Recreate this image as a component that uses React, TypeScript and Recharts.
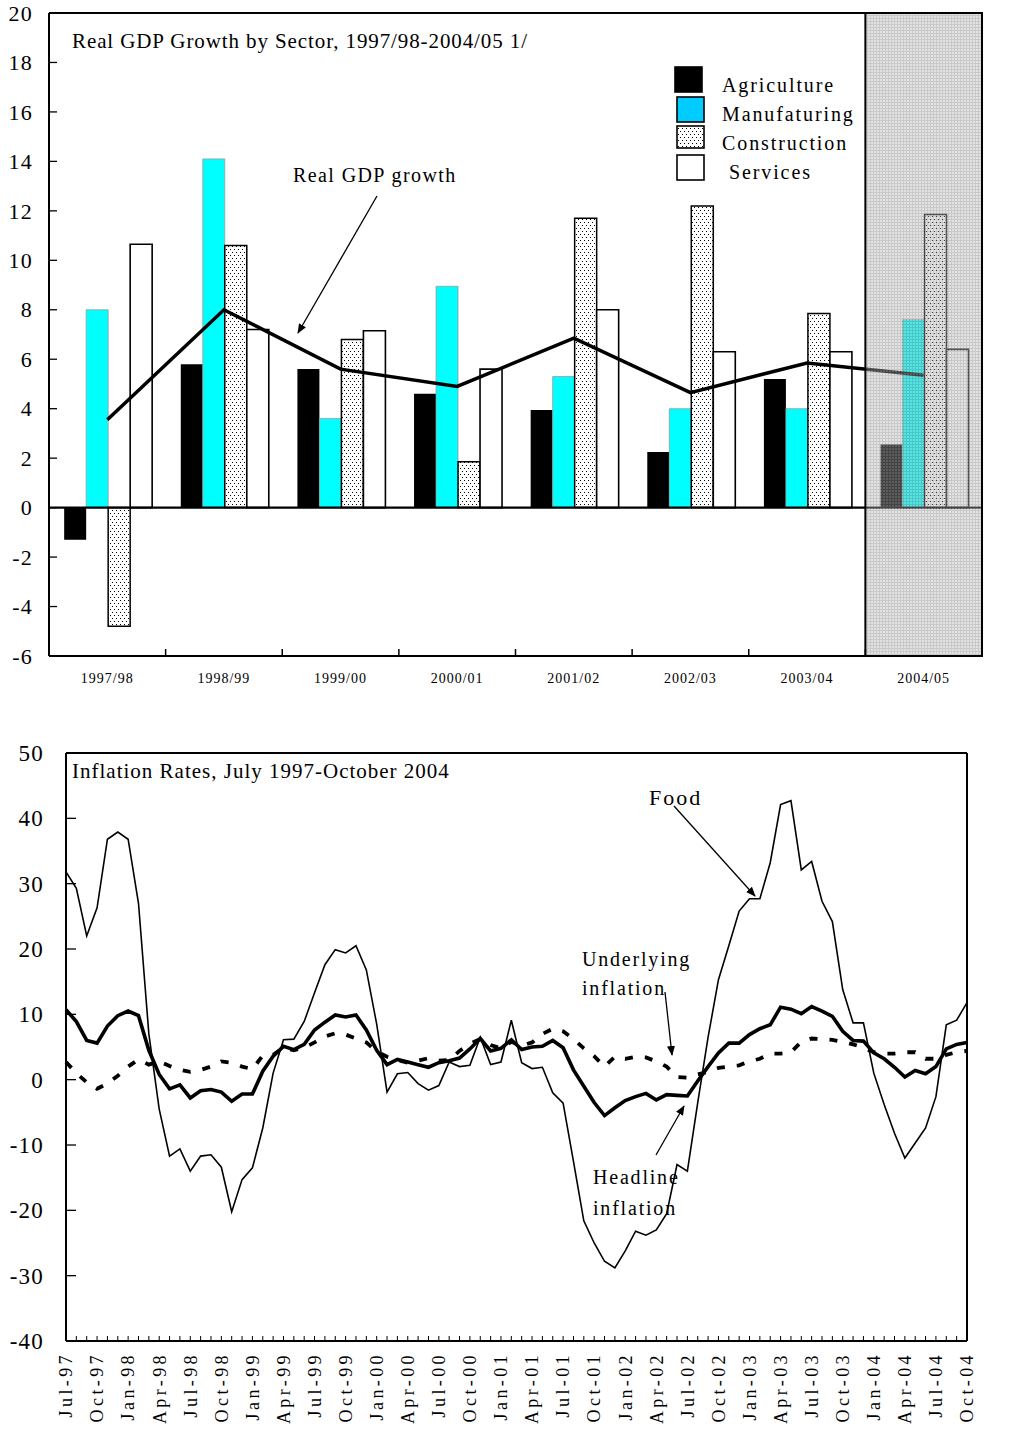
import {
  Bar,
  ComposedChart,
  Legend,
  Line,
  LineChart,
  ReferenceArea,
  ReferenceLine,
  XAxis,
  YAxis,
} from "recharts";

const SERIF = "'Liberation Serif', 'Times New Roman', serif";

// ---- Real GDP growth by sector (percent) ----
const fiscalYears = ["1997/98", "1998/99", "1999/00", "2000/01", "2001/02", "2002/03", "2003/04", "2004/05"];
const agriculture = [-1.3, 5.8, 5.6, 4.6, 3.95, 2.25, 5.2, 2.55];
const manufacturing = [8.0, 14.1, 3.6, 8.95, 5.3, 4.0, 4.0, 7.6];
const construction = [-4.8, 10.6, 6.8, 1.85, 11.7, 12.2, 7.85, 11.85];
const services = [10.65, 7.2, 7.15, 5.6, 8.0, 6.3, 6.3, 6.4];
const realGdp = [3.55, 8.0, 5.6, 4.9, 6.85, 4.65, 5.85, 5.35];
const gdpTicks = [-6, -4, -2, 0, 2, 4, 6, 8, 10, 12, 14, 16, 18, 20];

// ---- Inflation rates, monthly (percent, year on year) ----
const months = [
  "Jul-97", "Aug-97", "Sep-97", "Oct-97", "Nov-97", "Dec-97",
  "Jan-98", "Feb-98", "Mar-98", "Apr-98", "May-98", "Jun-98", "Jul-98", "Aug-98", "Sep-98", "Oct-98", "Nov-98", "Dec-98",
  "Jan-99", "Feb-99", "Mar-99", "Apr-99", "May-99", "Jun-99", "Jul-99", "Aug-99", "Sep-99", "Oct-99", "Nov-99", "Dec-99",
  "Jan-00", "Feb-00", "Mar-00", "Apr-00", "May-00", "Jun-00", "Jul-00", "Aug-00", "Sep-00", "Oct-00", "Nov-00", "Dec-00",
  "Jan-01", "Feb-01", "Mar-01", "Apr-01", "May-01", "Jun-01", "Jul-01", "Aug-01", "Sep-01", "Oct-01", "Nov-01", "Dec-01",
  "Jan-02", "Feb-02", "Mar-02", "Apr-02", "May-02", "Jun-02", "Jul-02", "Aug-02", "Sep-02", "Oct-02", "Nov-02", "Dec-02",
  "Jan-03", "Feb-03", "Mar-03", "Apr-03", "May-03", "Jun-03", "Jul-03", "Aug-03", "Sep-03", "Oct-03", "Nov-03", "Dec-03",
  "Jan-04", "Feb-04", "Mar-04", "Apr-04", "May-04", "Jun-04", "Jul-04", "Aug-04", "Sep-04", "Oct-04",
];
const food = [
  31.8, 29.3, 22.0, 26.3, 36.8, 37.9, 36.8, 27.0, 7.0, -4.5,
  -11.7, -10.6, -14.0, -11.7, -11.5, -13.4, -20.2, -15.3, -13.5, -7.4,
  1.0, 6.1, 6.2, 8.9, 13.3, 17.6, 19.9, 19.4, 20.5, 16.8,
  8.5, -1.9, 0.9, 1.1, -0.6, -1.6, -0.9, 2.7, 2.0, 2.2,
  6.5, 2.3, 2.7, 9.1, 2.6, 1.7, 1.9, -2.0, -3.6, -12.5,
  -21.6, -25.0, -27.8, -28.8, -26.2, -23.2, -23.8, -23.0, -20.5, -13.0,
  -14.0, -3.5, 6.5, 15.3, 20.5, 25.8, 27.7, 27.7, 33.2, 42.1,
  42.7, 32.1, 33.4, 27.3, 24.2, 13.8, 8.7, 8.7, 1.0, -3.8,
  -8.2, -12.0, -9.7, -7.4, -2.6, 8.4, 9.1, 11.8,
];
const headline = [
  10.7, 8.9, 6.0, 5.6, 8.2, 9.8, 10.5, 9.8, 4.5, 0.8,
  -1.4, -0.8, -2.8, -1.7, -1.5, -1.9, -3.3, -2.2, -2.2, 1.3,
  3.6, 5.1, 4.6, 5.4, 7.6, 8.8, 9.9, 9.6, 9.9, 7.6,
  4.5, 2.3, 3.1, 2.7, 2.3, 1.9, 2.6, 2.9, 3.3, 4.7,
  6.3, 4.4, 4.8, 6.1, 4.6, 5.0, 5.1, 6.0, 4.9, 1.5,
  -1.0, -3.5, -5.5, -4.3, -3.2, -2.6, -2.1, -3.1, -2.3, -2.4,
  -2.5, -0.2, 2.0, 4.1, 5.6, 5.6, 6.9, 7.8, 8.4, 11.1,
  10.8, 10.1, 11.2, 10.5, 9.7, 7.4, 6.0, 5.9, 4.1, 3.2,
  1.9, 0.4, 1.4, 0.9, 2.0, 4.7, 5.4, 5.7,
];
const underlying = [
  2.7, 1.0, -0.4, -1.4, -0.6, 0.6, 2.0, 3.1, 2.3, 2.8,
  2.1, 1.5, 1.2, 1.5, 2.0, 2.8, 2.6, 2.0, 1.6, 3.7,
  3.8, 4.9, 4.5, 4.9, 5.7, 6.6, 7.1, 6.9, 6.3, 5.7,
  4.3, 3.5, 3.0, 2.6, 2.9, 3.3, 2.9, 3.0, 4.4, 5.5,
  6.2, 5.3, 4.8, 5.8, 5.2, 5.7, 7.0, 7.8, 7.4, 6.2,
  4.8, 3.6, 2.0, 3.5, 3.2, 3.5, 3.4, 2.8, 2.0, 0.4,
  0.3, 0.8, 1.2, 1.8, 2.0, 2.2, 2.8, 3.2, 4.0, 4.0,
  4.2, 5.8, 6.3, 6.2, 6.1, 5.8, 5.4, 4.9, 4.2, 4.0,
  4.0, 4.2, 4.2, 3.2, 3.2, 3.8, 4.2, 4.4,
];
const inflationTicks = [-40, -30, -20, -10, 0, 10, 20, 30, 40, 50];

const sectorRows = fiscalYears.map((year, i) => ({
  year,
  agriculture: agriculture[i],
  manufacturing: manufacturing[i],
  construction: construction[i],
  services: services[i],
  gdp: realGdp[i],
}));

const inflationRows = months.map((month, i) => ({
  month,
  food: food[i],
  headline: headline[i],
  underlying: underlying[i],
}));

// layout of the two panels
const WIDTH = 1028;
const TOP_H = 700;
const TOP_LEFT_AXIS = 49;
const TOP_RIGHT_AXIS = 46;
const TOP_PLOT_W = WIDTH - TOP_LEFT_AXIS - TOP_RIGHT_AXIS;
const LOW_TOP = 740;
const LOW_H = 689;

const legendItems = [
  { name: "Agriculture", fill: "#000000", stroke: "#000000" },
  { name: "Manufaturing", fill: "#00ccff", stroke: "#000000" },
  { name: "Construction", fill: "url(#dots)", stroke: "#000000" },
  { name: " Services", fill: "#ffffff", stroke: "#000000" },
];

function ValueTick(props: any) {
  const { x, y, payload, side, gap, len, fontSize, spacing } = props;
  const dir = side === "left" ? 1 : -1;
  return (
    <g>
      <line x1={x} x2={x + dir * len} y1={y} y2={y} stroke="#000" strokeWidth={1.3} />
      <text
        x={x - dir * gap}
        y={y}
        dy="0.35em"
        textAnchor={side === "left" ? "end" : "start"}
        fontFamily={SERIF}
        fontSize={fontSize}
        letterSpacing={spacing}
        fill="#000"
      >
        {payload.value}
      </text>
    </g>
  );
}

function YearTick(props: any) {
  const { x, y, payload, index } = props;
  const band = TOP_PLOT_W / fiscalYears.length;
  return (
    <g>
      {index > 0 && (
        <line x1={x - band / 2} x2={x - band / 2} y1={y} y2={y - 7} stroke="#000" strokeWidth={1.5} />
      )}
      <text x={x} y={y + 27} textAnchor="middle" fontFamily={SERIF} fontSize={14} letterSpacing={1} fill="#000">
        {payload.value}
      </text>
    </g>
  );
}

function MonthTick(props: any) {
  const { x, y, payload, index } = props;
  const ty = y + 11;
  return (
    <g>
      <line x1={x} x2={x} y1={y} y2={y - 5} stroke="#000" strokeWidth={1} />
      {index % 3 === 0 && (
        <text
          x={x}
          y={ty}
          dy="0.35em"
          transform={`rotate(-90 ${x} ${ty})`}
          textAnchor="end"
          fontFamily={SERIF}
          fontSize={18}
          letterSpacing={3.4}
          fill="#000"
        >
          {payload.value}
        </text>
      )}
    </g>
  );
}

function SectorLegend() {
  return (
    <div style={{ position: "relative", width: 200, height: 120, fontFamily: SERIF }}>
      {legendItems.map((item, i) => (
        <div key={item.name} style={{ position: "absolute", left: 0, top: i * 29, height: 29, width: 200 }}>
          <svg width={32} height={28} style={{ position: "absolute", left: i === 0 ? 0 : 2, top: i === 0 ? 2 : 3 }}>
            <rect
              x={1}
              y={1}
              width={27}
              height={i === 2 ? 22 : 25}
              fill={item.fill}
              stroke={item.stroke}
              strokeWidth={1.6}
            />
          </svg>
          <span
            style={{
              position: "absolute",
              left: 48,
              top: 10,
              fontSize: 20,
              letterSpacing: 1.9,
              whiteSpace: "pre",
              color: "#000",
              lineHeight: "22px",
            }}
          >
            {item.name}
          </span>
        </div>
      ))}
    </div>
  );
}

function SectorChart() {
  return (
    <div style={{ position: "absolute", left: 0, top: 0, width: WIDTH, height: TOP_H }}>
      <ComposedChart
        width={WIDTH}
        height={TOP_H}
        data={sectorRows}
        margin={{ top: 13, right: 0, left: 0, bottom: 0 }}
        barCategoryGap="13%"
        barGap={0}
      >
        <defs>
          <pattern id="dots" width="4" height="6" patternUnits="userSpaceOnUse">
            <rect width="4" height="6" fill="#ffffff" />
            <rect x="0" y="0" width="1" height="1" fill="#000" />
            <rect x="2" y="3" width="1" height="1" fill="#000" />
          </pattern>
          <pattern id="shade" width="3" height="3" patternUnits="userSpaceOnUse">
            <rect width="3" height="3" fill="#c2c2c2" />
            <path d="M0 0.5H3M0.5 0V3" stroke="#8f8f8f" strokeWidth="1" />
          </pattern>
        </defs>
        <XAxis
          dataKey="year"
          height={TOP_H - 656}
          axisLine={{ stroke: "#000", strokeWidth: 2 }}
          tickLine={false}
          tickSize={0}
          tickMargin={0}
          interval={0}
          tick={(p: any) => <YearTick {...p} />}
        />
        <YAxis
          yAxisId="left"
          width={TOP_LEFT_AXIS}
          domain={[-6, 20]}
          ticks={gdpTicks}
          interval={0}
          axisLine={{ stroke: "#000", strokeWidth: 2 }}
          tickLine={false}
          tickSize={0}
          tickMargin={0}
          tick={(p: any) => <ValueTick {...p} side="left" gap={16} len={8} fontSize={22} spacing={1.2} />}
        />
        <YAxis
          yAxisId="right"
          orientation="right"
          width={TOP_RIGHT_AXIS}
          domain={[-6, 20]}
          ticks={gdpTicks}
          interval={0}
          axisLine={{ stroke: "#000", strokeWidth: 2 }}
          tickLine={false}
          tickSize={0}
          tickMargin={0}
          tick={(p: any) => <ValueTick {...p} side="right" gap={20} len={8} fontSize={22} spacing={1.2} />}
        />
        <ReferenceLine yAxisId="left" y={20} stroke="#000" strokeWidth={2} />
        <ReferenceLine yAxisId="left" y={0} stroke="#000" strokeWidth={2.2} />
        <Bar yAxisId="left" dataKey="agriculture" name="Agriculture" fill="#000" isAnimationActive={false} />
        <Bar
          yAxisId="left"
          dataKey="manufacturing"
          name="Manufaturing"
          fill="#00ffff"
          stroke="#9a9a9a"
          strokeWidth={0.8}
          isAnimationActive={false}
        />
        <Bar
          yAxisId="left"
          dataKey="construction"
          name="Construction"
          fill="url(#dots)"
          stroke="#000"
          strokeWidth={1.5}
          isAnimationActive={false}
        />
        <Bar
          yAxisId="left"
          dataKey="services"
          name="Services"
          fill="#fff"
          stroke="#000"
          strokeWidth={1.6}
          isAnimationActive={false}
        />
        <Line
          yAxisId="left"
          type="linear"
          dataKey="gdp"
          name="Real GDP growth"
          stroke="#000"
          strokeWidth={3.5}
          dot={false}
          activeDot={false}
          isAnimationActive={false}
        />
        {/* projected year, hatched over the bars */}
        <ReferenceArea
          yAxisId="left"
          x1="2004/05"
          x2="2004/05"
          y1={-6}
          y2={20}
          fill="url(#shade)"
          fillOpacity={0.48}
          stroke="#000"
          strokeWidth={2}
          zIndex={900}
        />
        <Legend
          layout="vertical"
          align="center"
          verticalAlign="middle"
          wrapperStyle={{ left: 674, top: 64, width: 200 }}
          content={() => <SectorLegend />}
        />
      </ComposedChart>
      <svg width={WIDTH} height={TOP_H} style={{ position: "absolute", left: 0, top: 0, pointerEvents: "none" }}>
        <defs>
          <marker id="headTop" markerWidth="10" markerHeight="8" refX="9" refY="4" orient="auto" markerUnits="userSpaceOnUse">
            <path d="M0,0 L10,4 L0,8 z" fill="#000" />
          </marker>
        </defs>
        <text x={72} y={48} fontFamily={SERIF} fontSize={21} letterSpacing={0.9} fill="#000">
          Real GDP Growth by Sector, 1997/98-2004/05 1/
        </text>
        <text x={293} y={182} fontFamily={SERIF} fontSize={20} letterSpacing={1.4} fill="#000">
          Real GDP growth
        </text>
        <line x1={377} y1={196} x2={298} y2={333} stroke="#000" strokeWidth={1.3} markerEnd="url(#headTop)" />
      </svg>
    </div>
  );
}

function InflationChart() {
  return (
    <div style={{ position: "absolute", left: 0, top: LOW_TOP, width: WIDTH, height: LOW_H }}>
      <LineChart width={WIDTH} height={LOW_H} data={inflationRows} margin={{ top: 13, right: 0, left: 0, bottom: 0 }}>
        <XAxis
          dataKey="month"
          height={88}
          axisLine={{ stroke: "#000", strokeWidth: 2 }}
          tickLine={false}
          tickSize={0}
          tickMargin={0}
          interval={0}
          tick={(p: any) => <MonthTick {...p} />}
        />
        <YAxis
          yAxisId="left"
          width={66}
          domain={[-40, 50]}
          ticks={inflationTicks}
          interval={0}
          axisLine={{ stroke: "#000", strokeWidth: 2 }}
          tickLine={false}
          tickSize={0}
          tickMargin={0}
          tick={(p: any) => <ValueTick {...p} side="left" gap={22} len={10} fontSize={23} spacing={1.2} />}
        />
        <YAxis
          yAxisId="right"
          orientation="right"
          width={61}
          domain={[-40, 50]}
          ticks={inflationTicks}
          interval={0}
          axisLine={{ stroke: "#000", strokeWidth: 2 }}
          tickLine={false}
          tickSize={0}
          tickMargin={0}
          tick={(p: any) => <ValueTick {...p} side="right" gap={22} len={10} fontSize={23} spacing={1.2} />}
        />
        <ReferenceLine yAxisId="left" y={50} stroke="#000" strokeWidth={2} />
        <Line
          yAxisId="left"
          type="linear"
          dataKey="food"
          name="Food"
          stroke="#000"
          strokeWidth={1.6}
          dot={false}
          activeDot={false}
          isAnimationActive={false}
        />
        <Line
          yAxisId="left"
          type="linear"
          dataKey="headline"
          name="Headline inflation"
          stroke="#000"
          strokeWidth={3.6}
          dot={false}
          activeDot={false}
          isAnimationActive={false}
        />
        <Line
          yAxisId="left"
          type="linear"
          dataKey="underlying"
          name="Underlying inflation"
          stroke="#000"
          strokeWidth={3.8}
          strokeDasharray="8 12"
          dot={false}
          activeDot={false}
          isAnimationActive={false}
        />
      </LineChart>
      <svg width={WIDTH} height={LOW_H} style={{ position: "absolute", left: 0, top: 0, pointerEvents: "none" }}>
        <defs>
          <marker id="headLow" markerWidth="10" markerHeight="8" refX="9" refY="4" orient="auto" markerUnits="userSpaceOnUse">
            <path d="M0,0 L10,4 L0,8 z" fill="#000" />
          </marker>
        </defs>
        <g fontFamily={SERIF} fill="#000">
          <text x={72} y={38} fontSize={21} letterSpacing={1}>
            Inflation Rates, July 1997-October 2004
          </text>
          <text x={649} y={65} fontSize={22} letterSpacing={2}>
            Food
          </text>
          <text x={582} y={226} fontSize={20} letterSpacing={1.8}>
            Underlying
          </text>
          <text x={582} y={255} fontSize={20} letterSpacing={1.8}>
            inflation
          </text>
          <text x={593} y={444} fontSize={20} letterSpacing={1.8}>
            Headline
          </text>
          <text x={593} y={475} fontSize={20} letterSpacing={1.8}>
            inflation
          </text>
        </g>
        <line x1={674} y1={66} x2={755} y2={156} stroke="#000" strokeWidth={1.3} markerEnd="url(#headLow)" />
        <line x1={665} y1={252} x2={672} y2={315} stroke="#000" strokeWidth={1.3} markerEnd="url(#headLow)" />
        <line x1={656} y1={415} x2={684} y2={366} stroke="#000" strokeWidth={1.3} markerEnd="url(#headLow)" />
      </svg>
    </div>
  );
}

export default function App() {
  return (
    <div style={{ position: "absolute", left: 0, top: 0, width: WIDTH, height: 1429, background: "#fff" }}>
      <SectorChart />
      <InflationChart />
    </div>
  );
}
